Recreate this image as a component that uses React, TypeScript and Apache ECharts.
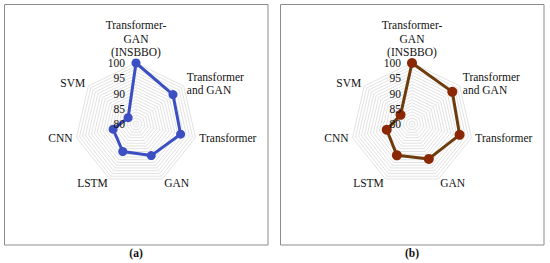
import React, { useEffect, useRef } from "react";
import * as echarts from "echarts";

// Categories in clockwise order, starting at the top
const categories = [
  "Transformer-\nGAN\n(INSBBO)",
  "Transformer\nand GAN",
  "Transformer",
  "GAN",
  "LSTM",
  "CNN",
  "SVM",
];
const valuesA = [100, 95.5, 95.0, 91.5, 90.0, 87.7, 83.3];
const valuesB = [100, 96.9, 96.0, 92.7, 91.4, 88.5, 84.8];
const tickLabels = [80, 85, 90, 95, 100];
const axisMin = 80;
const axisMax = 100;
const panelCaptions = ["(a)", "(b)"];

const FONT = "'Liberation Serif', 'Times New Roman', serif";

export default function App() {
  const ref = useRef<HTMLDivElement>(null);
  useEffect(() => {
    if (!ref.current) return;
    const chart = echarts.init(ref.current, undefined, { renderer: "svg" });
    const n = categories.length;
    // ECharts radar runs counter-clockwise; reorder so the picture is clockwise
    const ccw = <T,>(arr: T[]) => [arr[0], ...arr.slice(1).reverse()];
    const panels = [
      { cx: 136, cy: 124, box: [4.5, 4.5, 263.5, 240.5], values: valuesA, line: "#3b4fc2", marker: "#3b4fc2", size: 9 },
      { cx: 412, cy: 124, box: [280.5, 4.5, 263.5, 240.5], values: valuesB, line: "#6e3c0c", marker: "#8a2806", size: 10 },
    ];
    const R = 61;
    const graphics: any[] = [];
    panels.forEach((p, pi) => {
      graphics.push({
        type: "rect",
        shape: { x: p.box[0], y: p.box[1], width: p.box[2], height: p.box[3] },
        style: { fill: "none", stroke: "#8c8c8c", lineWidth: 1 },
        silent: true,
        z: -1,
      });
      categories.forEach((name, i) => {
        const ang = ((90 - (i * 360) / n) * Math.PI) / 180;
        const c = Math.cos(ang);
        const s = Math.sin(ang);
        const gap = 4;
        const x = p.cx + (R + gap) * c;
        const y = p.cy - (R + gap) * s;
        const align = c > 0.1 ? "left" : c < -0.1 ? "right" : "center";
        const vAlign = i === 0 ? "bottom" : "middle";
        graphics.push({
          type: "text",
          x,
          y,
          style: {
            text: name,
            font: `11.5px ${FONT}`,
            fill: "#111111",
            align,
            verticalAlign: vAlign,
            lineHeight: 13.5,
          },
          silent: true,
        });
      });
      tickLabels.forEach((v) => {
        graphics.push({
          type: "text",
          x: p.cx - 11,
          y: p.cy - ((v - axisMin) / (axisMax - axisMin)) * R,
          style: {
            text: String(v),
            font: `11.5px ${FONT}`,
            fill: "#111111",
            align: "right",
            verticalAlign: "middle",
          },
          silent: true,
          z: 10,
        });
      });
      graphics.push({
        type: "text",
        x: p.cx,
        y: 253,
        style: {
          text: panelCaptions[pi],
          font: `bold 11.5px ${FONT}`,
          fill: "#111111",
          align: "center",
          verticalAlign: "middle",
        },
        silent: true,
      });
    });

    chart.setOption({
      animation: false,
      backgroundColor: "#ffffff",
      radar: panels.map((p) => ({
        center: [p.cx, p.cy],
        radius: R,
        startAngle: 90,
        shape: "polygon",
        splitNumber: 20,
        indicator: ccw(categories).map((name) => ({ name, min: axisMin, max: axisMax })),
        axisName: { show: false },
        axisLine: { show: true, lineStyle: { color: "#efefef", width: 0.6 } },
        axisTick: { show: false },
        axisLabel: { show: false },
        splitLine: { lineStyle: { color: "#d6d6d6", width: 0.7 } },
        splitArea: { show: false },
      })),
      series: panels.map((p, pi) => ({
        type: "radar",
        radarIndex: pi,
        symbol: "circle",
        symbolSize: p.size,
        lineStyle: { color: p.line, width: 3 },
        itemStyle: { color: p.marker },
        z: 5,
        data: [{ value: ccw(p.values) }],
      })),
      graphic: graphics,
    });
    return () => chart.dispose();
  }, []);
  return (
    <div
      ref={ref}
      style={{ position: "fixed", left: 0, top: 0, width: 550, height: 263 }}
    />
  );
}
